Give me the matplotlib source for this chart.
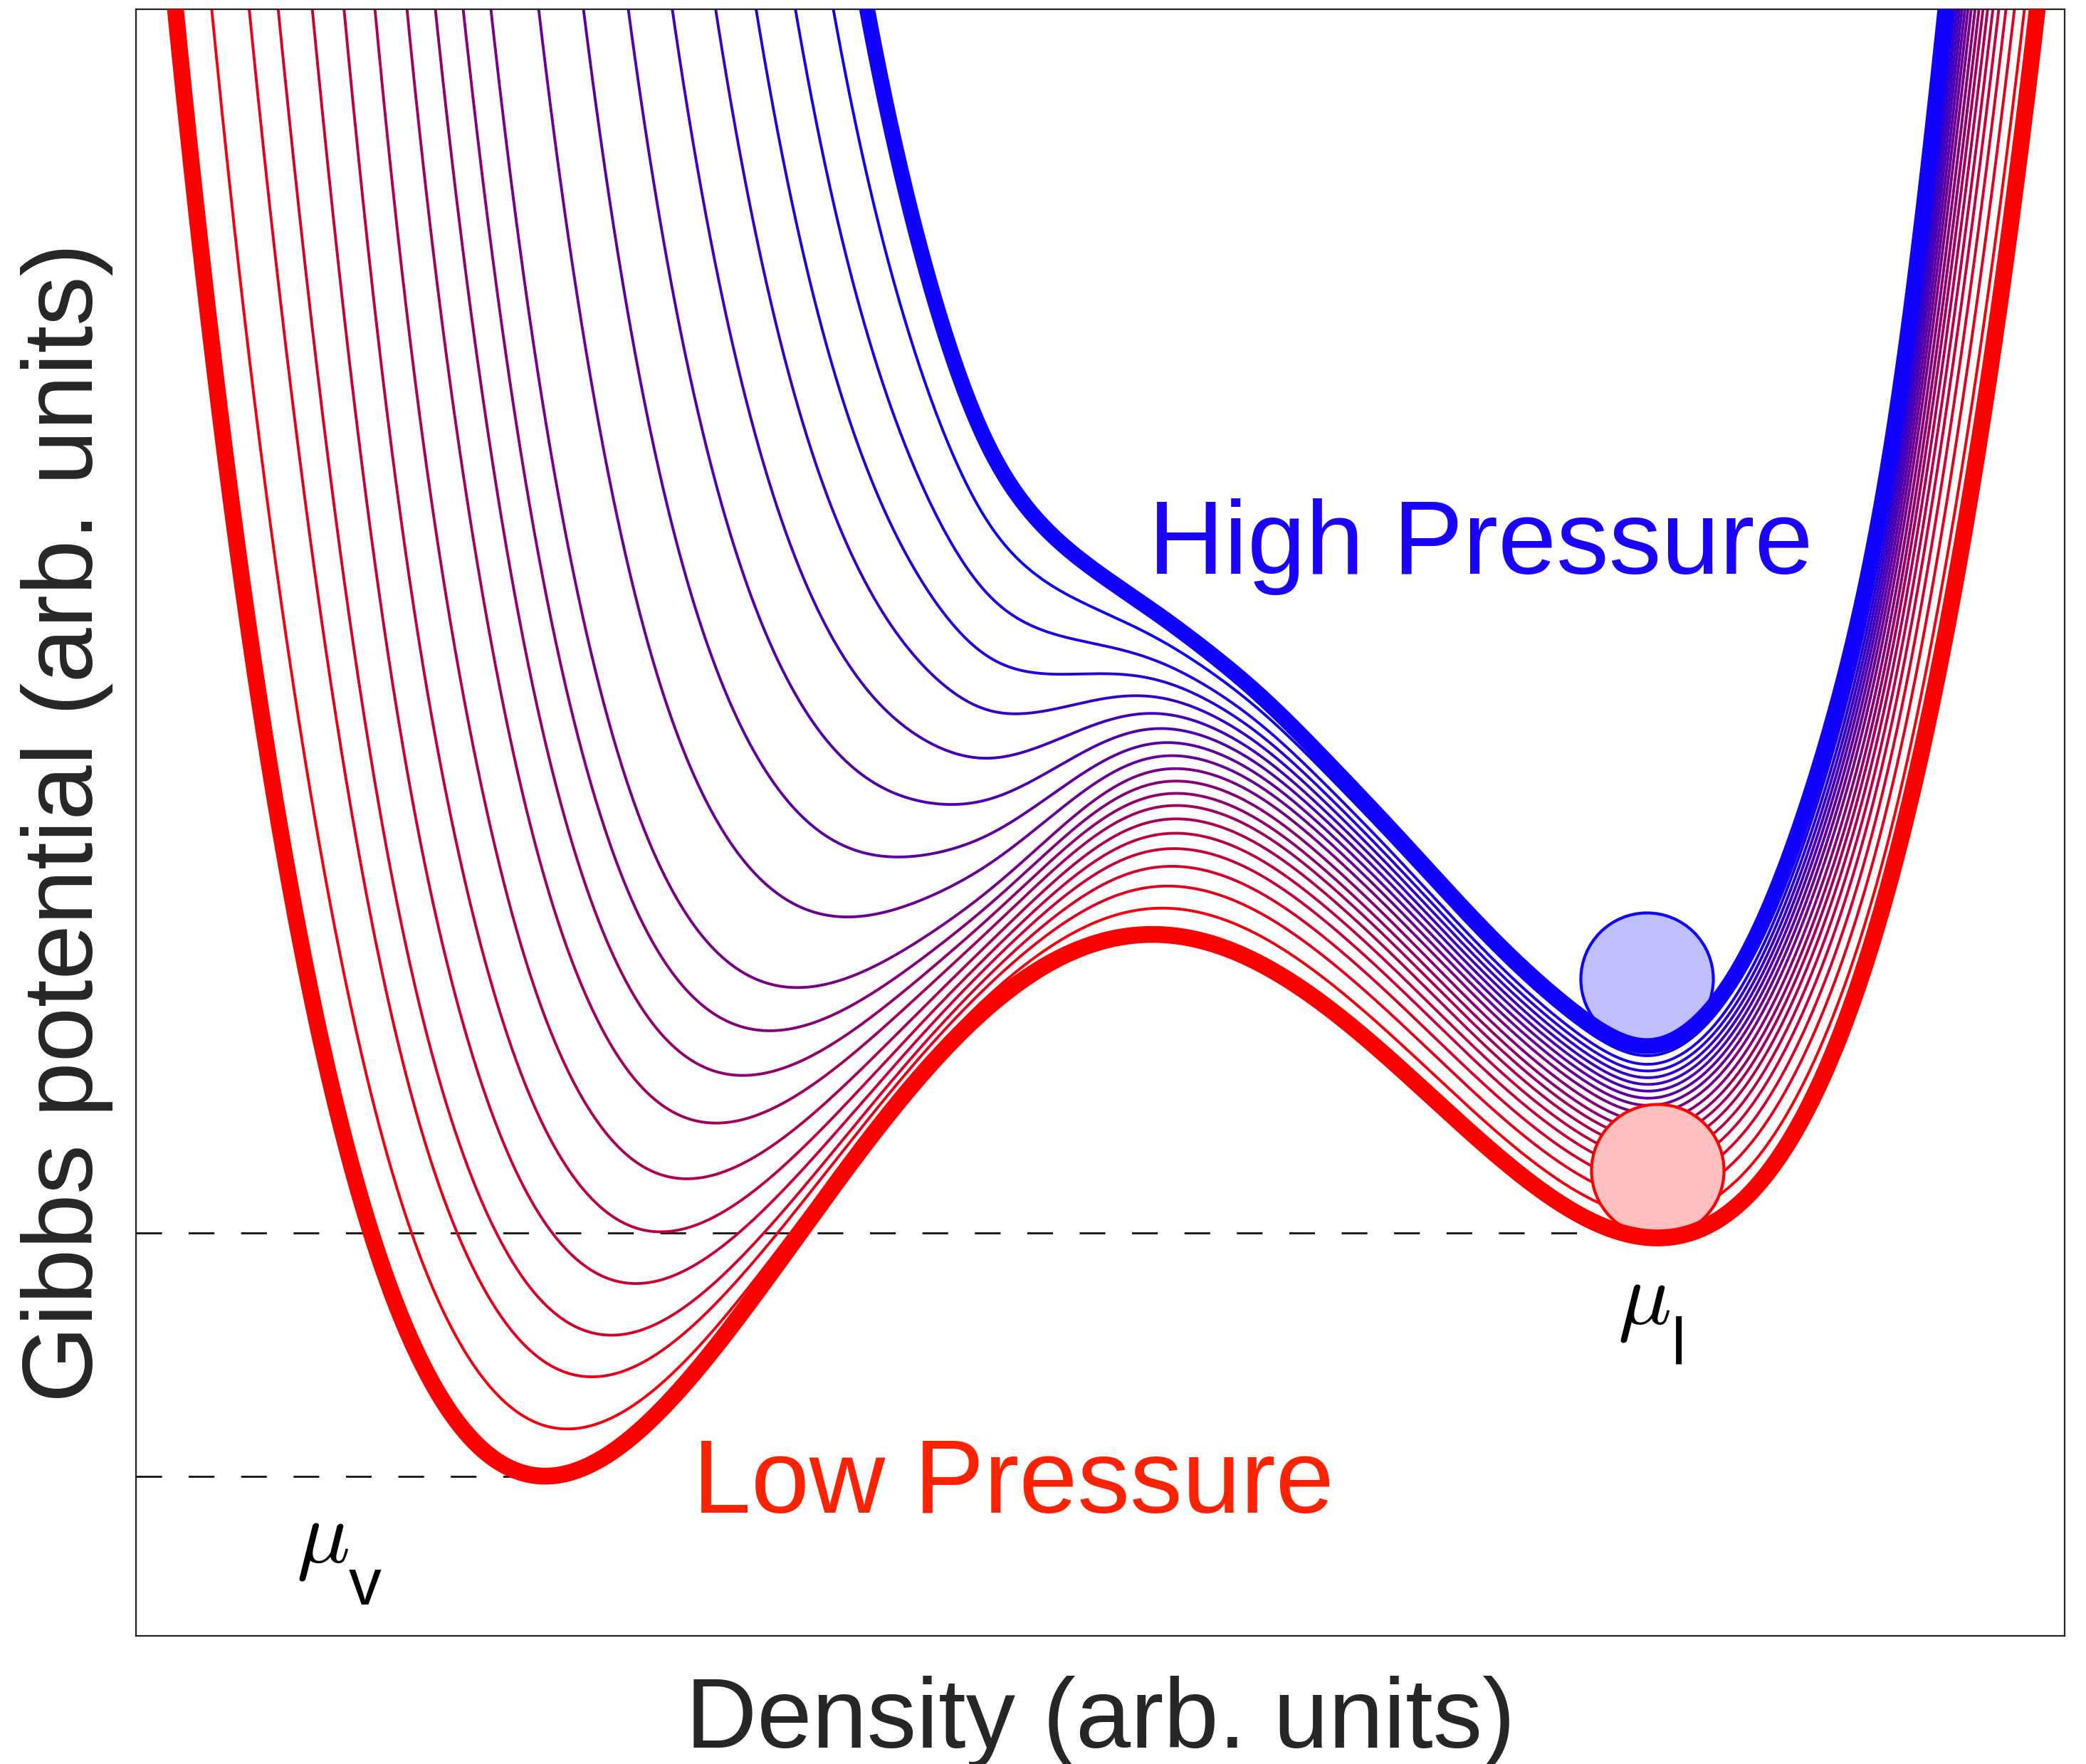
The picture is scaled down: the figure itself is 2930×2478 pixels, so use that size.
import numpy as np
import matplotlib
matplotlib.use("Agg")
import matplotlib.pyplot as plt
from numpy.polynomial import Polynomial

# low pressure curve (thick red), density / Gibbs potential in axis units (0..1)
red_u = [0.021, 0.0332, 0.0454, 0.0624, 0.0757, 0.086, 0.096, 0.1237, 0.1388, 0.1528,
         0.1772, 0.2152, 0.2506, 0.278, 0.3012, 0.3426, 0.4068, 0.4795, 0.536, 0.6095,
         0.6933, 0.7431, 0.7918, 0.8269, 0.8435, 0.8937, 0.917, 0.9539, 0.9856]
red_g = [1.0, 0.8604, 0.7155, 0.5702, 0.5024, 0.4368, 0.3742, 0.2455, 0.1816, 0.1492,
         0.1173, 0.0963, 0.1173, 0.1492, 0.1816, 0.2455, 0.3418, 0.4158, 0.4302, 0.3965,
         0.3068, 0.2648, 0.242, 0.2617, 0.2779, 0.4061, 0.5024, 0.7155, 1.0]

# high pressure curve (thick blue)
blue_u = [0.3791, 0.405, 0.4282, 0.4448, 0.4588, 0.4758, 0.5094, 0.5526, 0.6194, 0.6966,
          0.7431, 0.7852, 0.8236, 0.8435, 0.8634, 0.9103, 0.9373]
blue_g = [1.0, 0.8604, 0.7698, 0.7155, 0.6972, 0.6718, 0.6429, 0.6066, 0.5339, 0.4368,
          0.3870, 0.3575, 0.3940, 0.4381, 0.5024, 0.7155, 1.0]

# pressure weight of every curve, low -> high (vapour side and liquid side)
p_vap = [0, 0.0068, 0.0154, 0.0232, 0.0342, 0.0469, 0.062, 0.0806, 0.0993, 0.1198,
         0.143, 0.191, 0.246, 0.313, 0.392, 0.485, 0.589, 0.7105, 0.851, 1.0]
p_liq = [0, 0.11, 0.20, 0.28, 0.35, 0.41, 0.465, 0.515, 0.56, 0.605,
         0.65, 0.69, 0.728, 0.765, 0.80, 0.835, 0.87, 0.905, 0.95, 1.0]

# where each curve leaves the top of the frame (left and right walls)
exit_left = [0.021, 0.0395, 0.058, 0.0746, 0.0915, 0.1082, 0.124, 0.1399, 0.155, 0.1698,
             0.1842, 0.2086, 0.2322, 0.2551, 0.278, 0.3005, 0.3215, 0.3418, 0.3614, 0.3791]
exit_right = [0.9856, 0.979, 0.9742, 0.9686, 0.9657, 0.9631, 0.9605, 0.9583, 0.9557, 0.9531,
              0.9513, 0.9494, 0.9476, 0.9457, 0.9421, 0.9413, 0.9406, 0.9399, 0.9391, 0.9373]

R = Polynomial.fit(red_u, red_g, 8)

# pressure term D(u) = G_high - G_low, gathered from the picture
du, dv = [], []
for i in range(1, 19):
    du.append(exit_left[i]); dv.append((1 - R(exit_left[i])) / p_vap[i])
for x, y in zip(blue_u, blue_g):
    du.append(x); dv.append(y - R(x))
for i in range(1, 19):
    du.append(exit_right[i]); dv.append((1 - R(exit_right[i])) / p_liq[i])
order = np.argsort(du)
du = np.array(du)[order]
lv = np.log(np.clip(np.array(dv)[order], 0.03, None))

# smooth log D with a gaussian kernel, straight extension past the ends
grid = np.linspace(-0.1, 1.1, 2401)
lg = np.interp(grid, du, lv)
lo = Polynomial.fit(du[:4], lv[:4], 1)
hi = Polynomial.fit(du[-4:], lv[-4:], 1)
lg[grid < du[0]] = lo(grid[grid < du[0]])
lg[grid > du[-1]] = hi(grid[grid > du[-1]])
step = grid[1] - grid[0]
k = np.arange(-80, 81) * step
kern = np.exp(-0.5 * (k / 0.016) ** 2)
kern /= kern.sum()
lg = np.convolve(np.pad(lg, 80, mode='edge'), kern, mode='same')[80:-80]

u = np.linspace(0.008, 0.995, 3000)
D = np.exp(np.interp(u, grid, lg))
w = 1 / (1 + np.exp((u - 0.5) / 0.03))


def curve(i):
    mix = p_vap[i] * w + p_liq[i] * (1 - w)
    return R(u) + mix * D


fig = plt.figure(figsize=(29.30, 24.78), dpi=100)
ax = fig.add_axes([191 / 2930, 1 - 2298 / 2478, 2709 / 2930, 2285 / 2478])

n = len(p_liq)
for i in range(1, n - 1):
    s = i / (n - 1)
    ax.plot(u, curve(i), color=(1 - s, 0, s), lw=2.8, zorder=2)

g_red = curve(0)
g_blue = curve(n - 1)
ax.plot(u, g_red, color='#ff0000', lw=17, zorder=5, solid_capstyle='butt')
ax.plot(u, g_blue, color='#1000ff', lw=16, zorder=5, solid_capstyle='butt')

# chemical potentials of the two phases
vap = u < 0.5
iv = np.argmin(np.where(vap, g_red, 9))
il = np.argmin(np.where(~vap, g_red, 9))
ib = np.argmin(np.where(~vap, g_blue, 9))
ax.plot([0, u[iv]], [g_red[iv], g_red[iv]], color='#111111', lw=2, dashes=(13, 13.5), zorder=1)
ax.plot([0, u[il]], [g_red[il] + 0.003, g_red[il] + 0.003], color='#111111', lw=2,
        dashes=(13, 13.5), zorder=1)

r = 95 / 2285
ax.plot(u[ib], g_blue[ib] + r, 'o', ms=134, mfc='#bfbfff', mec='#1000ff', mew=3, zorder=4)
ax.plot(u[il], g_red[il] + r, 'o', ms=134, mfc='#ffbfbf', mec='#ff0000', mew=3, zorder=4)

ax.text(0.525, 0.653, 'High Pressure', color='#1a00ff', fontsize=106,
        family='Liberation Sans', ha='left', va='baseline')
ax.text(0.2887, 0.0757, 'Low Pressure', color='#ff2200', fontsize=106,
        family='Liberation Sans', ha='left', va='baseline')

ax.text(0.768, 0.192, r'$\mu$', fontsize=90, math_fontfamily='cm', ha='left', va='baseline')
ax.text(0.7962, 0.1672, 'l', fontsize=66, family='Liberation Sans', ha='left', va='baseline')
ax.text(0.0831, 0.0451, r'$\mu$', fontsize=90, math_fontfamily='cm', ha='left', va='baseline')
ax.text(0.1104, 0.0193, 'v', fontsize=66, family='Liberation Sans', ha='left', va='baseline')

ax.set_xlim(0, 1)
ax.set_ylim(0, 1)
ax.set_xticks([])
ax.set_yticks([])
for sp in ax.spines.values():
    sp.set_linewidth(1.6)
    sp.set_color('#222222')
ax.set_xlabel('Density (arb. units)', fontsize=100, color='#262626',
              family='Liberation Sans', labelpad=40)
ax.set_ylabel('Gibbs potential (arb. units)', fontsize=100, color='#262626',
              family='Liberation Sans', labelpad=23)

fig.savefig('out.png', dpi=100)
